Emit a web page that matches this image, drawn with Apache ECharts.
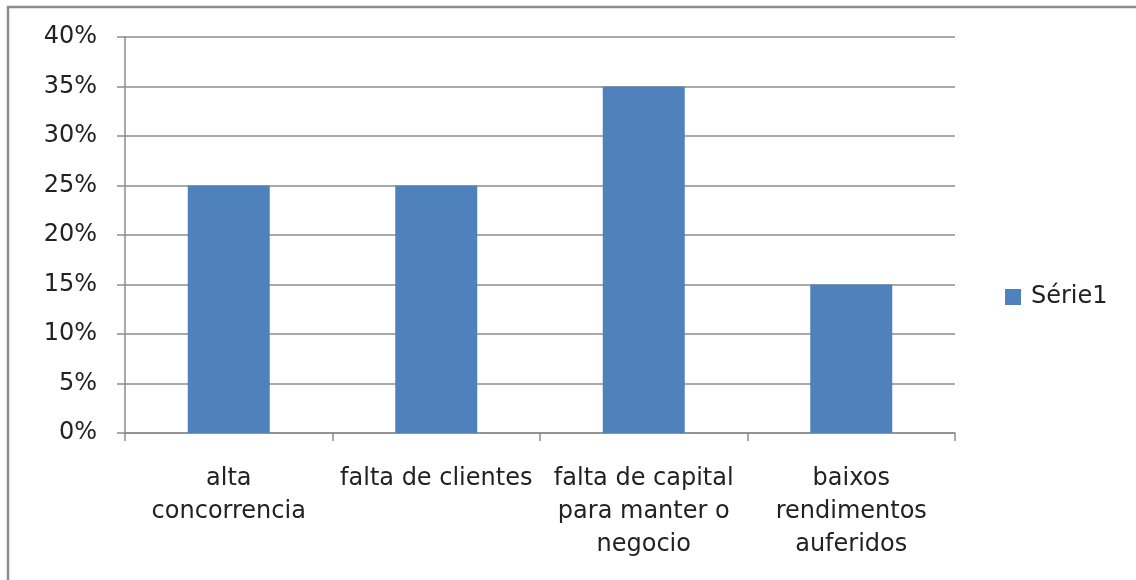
<!DOCTYPE html>
<html>
<head>
<meta charset="utf-8">
<script src="https://cdn.jsdelivr.net/npm/echarts@6/dist/echarts.min.js"></script>
<style>
  html, body { margin: 0; padding: 0; background: #fff; }
  #chart { width: 1136px; height: 580px; }
</style>
</head>
<body>
<div id="chart"></div>
<script>
const categories = [
  "alta\nconcorrencia",
  "falta de clientes",
  "falta de capital\npara manter o\nnegocio",
  "baixos\nrendimentos\nauferidos"
];
const serie1 = [0.25, 0.25, 0.35, 0.15];
const seriesName = "Série1";

const myChart = echarts.init(document.getElementById("chart"));

const option = {
  backgroundColor: "#fff",
  animation: false,
  textStyle: { fontFamily: "DejaVu Sans" },
  graphic: [
    {
      type: "rect",
      shape: { x: 8, y: 7, width: 1200, height: 700 },
      style: { fill: "none", stroke: "#8c8c8c", lineWidth: 2.5 },
      silent: true
    }
  ],
  grid: { left: 125, right: 181, top: 37, bottom: 147 },
  legend: {
    data: [seriesName],
    left: 1000,
    top: 280,
    itemWidth: 16,
    itemHeight: 16,
    itemGap: 6,
    icon: "rect",
    textStyle: { fontSize: 24, color: "#222", fontFamily: "DejaVu Sans", padding: [0, 0, 0, 5] }
  },
  xAxis: {
    type: "category",
    data: categories,
    boundaryGap: true,
    axisLine: { lineStyle: { color: "#8c8c8c", width: 1.5 } },
    axisTick: { show: true, length: 8, alignWithLabel: false, lineStyle: { color: "#8c8c8c", width: 1.5 } },
    axisLabel: {
      interval: 0,
      color: "#222",
      fontSize: 24,
      lineHeight: 33,
      margin: 29,
      fontFamily: "DejaVu Sans"
    }
  },
  yAxis: {
    type: "value",
    min: 0,
    max: 0.4,
    interval: 0.05,
    axisLine: { show: true, lineStyle: { color: "#8c8c8c", width: 1.5 } },
    axisTick: { show: true, length: 8, lineStyle: { color: "#8c8c8c", width: 1.5 } },
    splitLine: { lineStyle: { color: "#8c8c8c", width: 1.5 } },
    axisLabel: {
      color: "#222",
      fontSize: 24,
      margin: 28,
      fontFamily: "DejaVu Sans",
      formatter: function (v) { return Math.round(v * 100) + "%"; }
    }
  },
  series: [
    {
      name: seriesName,
      type: "bar",
      data: serie1,
      barWidth: 82,
      itemStyle: { color: "#4f81bd" }
    }
  ]
};

myChart.setOption(option);
</script>
</body>
</html>
